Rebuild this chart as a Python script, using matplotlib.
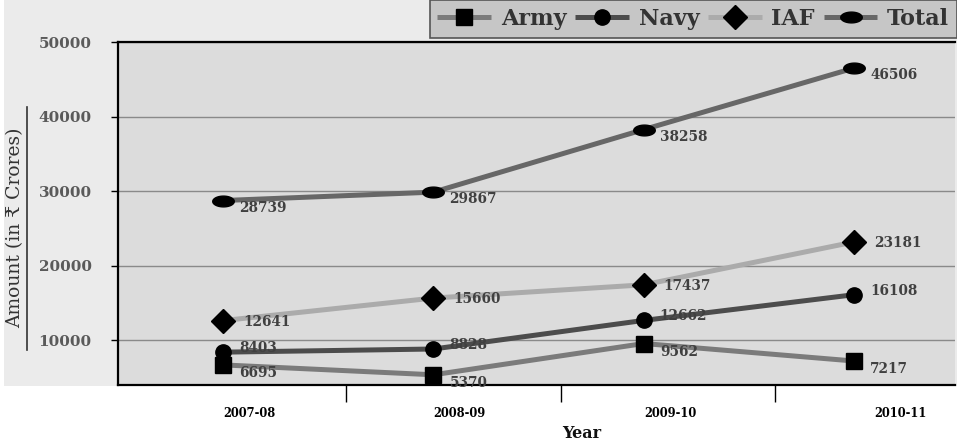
import matplotlib
matplotlib.use("Agg")
import matplotlib.pyplot as plt
import numpy as np
from matplotlib.path import Path
from matplotlib.patches import Rectangle

# ---- data -------------------------------------------------------------
years = ["2007-08", "2008-09", "2009-10", "2010-11"]
army = [6695, 5370, 9562, 7217]
navy = [8403, 8828, 12662, 16108]
iaf = [12641, 15660, 17437, 23181]
total = [28739, 29867, 38258, 46506]
yticks = [10000, 20000, 30000, 40000, 50000]

# ---- styling ----------------------------------------------------------
serif = ["DejaVu Serif", "DejaVu Sans"]
plt.rcParams["font.family"] = serif

# flattened oval marker for the total series
theta = np.linspace(0, 2 * np.pi, 60)
oval = Path(np.column_stack([np.cos(theta), 0.5 * np.sin(theta)]), closed=True)

series = [
    ("Army", army, "#7b7b7b", "s", 12, (16, -8)),
    ("Navy", navy, "#4c4c4c", "o", 11, (16, 4)),
    ("IAF", iaf, "#ababab", "D", 12.5, (20, -1)),
    ("Total", total, "#676767", oval, 15.5, (16, -7)),
]

fig = plt.figure(figsize=(9.57, 4.46), dpi=100, facecolor="white")
# grey panel behind the chart area
panel = Rectangle((4 / 957, 1 - 386 / 446), 953 / 957, 386 / 446,
                  transform=fig.transFigure, facecolor="#ebebeb",
                  edgecolor="none", zorder=-10)
fig.patches.append(panel)

ax = fig.add_axes([118 / 957, 1 - 385 / 446, (955 - 118) / 957, (385 - 42) / 446])
ax.set_zorder(1)
ax.set_facecolor("#dcdcdc")

x = np.arange(len(years))
handles = []
for name, vals, col, mk, ms, off in series:
    h, = ax.plot(x, vals, color=col, lw=3.6, marker=mk, markersize=ms,
                 markerfacecolor="black", markeredgecolor="black",
                 solid_capstyle="butt", label=name, zorder=3)
    handles.append(h)
    for xi, v in zip(x, vals):
        ax.annotate(f"{v}", (xi, v), xytext=off, textcoords="offset pixels",
                    ha="left", va="center", fontsize=9.8, fontweight="bold",
                    color="#404040", zorder=4)

ax.set_xlim(-0.5, 3.48)
ax.set_ylim(4000, 50000)

ax.set_yticks(yticks)
ax.set_yticklabels([str(t) for t in yticks])
ax.tick_params(axis="y", direction="out", length=5, width=1, pad=14,
               labelsize=11, labelcolor="#5a5a5a")
for lab in ax.get_yticklabels():
    lab.set_fontweight("bold")

# category boundaries carry the tick marks, names sit between them
ax.set_xticks([0.585, 1.605, 2.625])
ax.set_xticklabels([])
ax.tick_params(axis="x", which="major", direction="out", length=12, width=1)
ax.set_xticks([0.124, 1.122, 2.126, 3.22], minor=True)
ax.set_xticklabels(years, minor=True, fontsize=8.3, fontweight="bold")
ax.tick_params(axis="x", which="minor", length=0, pad=16)

ax.yaxis.grid(True, color="#8a8a8a", lw=1)
ax.set_axisbelow(True)

for s in ["left", "bottom", "top"]:
    ax.spines[s].set_color("black")
    ax.spines[s].set_linewidth(1.6)
ax.spines["right"].set_visible(False)

fig.text(582 / 957, 1 - 433 / 446, "Year", ha="center", va="center",
         fontsize=11.5, fontweight="bold", color="#111111")
fig.text(15 / 957, 1 - 228 / 446, "Amount (in \u20b9 Crores)", rotation=90,
         ha="center", va="center", fontsize=13.5, color="#333333")
fig.add_artist(plt.Line2D([27 / 957, 27 / 957], [1 - 107 / 446, 1 - 350 / 446],
                          transform=fig.transFigure, color="#333333", lw=1.2))

leg = fig.legend(handles=handles, loc="upper right",
                 bbox_to_anchor=(1.0, 1.0), ncol=4, frameon=True,
                 fancybox=False, prop={"family": serif, "weight": "bold", "size": 16},
                 handlelength=2.4, handletextpad=0.45, columnspacing=0.4,
                 borderpad=0.35, borderaxespad=0.0)
leg.get_frame().set_facecolor("#c6c6c6")
leg.get_frame().set_edgecolor("#555555")
leg.get_frame().set_linewidth(1.2)
leg.get_frame().set_alpha(1)
leg.set_zorder(5)
for t in leg.get_texts():
    t.set_color("#333333")

fig.savefig("out.png", dpi=100, facecolor=fig.get_facecolor())
